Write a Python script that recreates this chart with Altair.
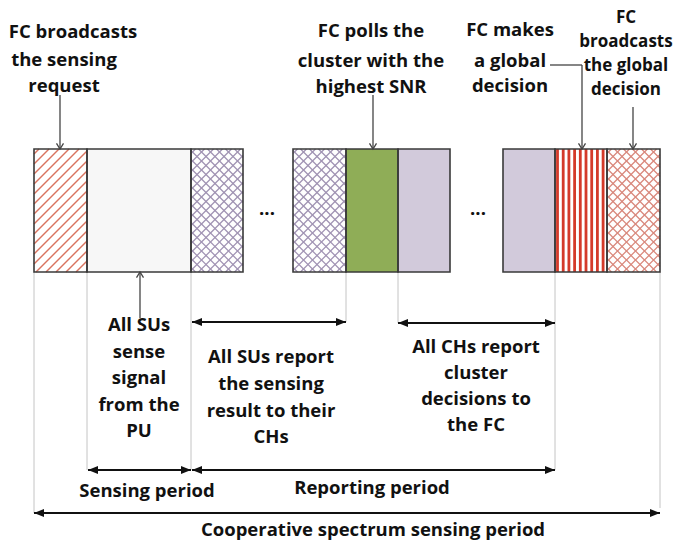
import altair as alt
import pandas as pd

# ---------------- data (diagram coordinates, pixels of the 685x548 figure) ----------------
block_x0 = [34, 87, 191, 293, 346, 398, 503, 555, 607]
block_x1 = [87, 191, 243, 346, 398, 450, 555, 607, 660]
block_pattern = ["diag_red", "dots_gray", "cross_purple", "cross_purple", "green",
                 "dots_purple", "dots_purple", "stripes_red", "cross_red"]
block_top = 149
block_bottom = 272

guide_x = [34, 87, 191, 346, 398, 555, 660]
guide_end = [513, 470, 470, 322, 323, 470, 508]

darrow_x0 = [88, 192, 34, 192, 398]
darrow_x1 = [191, 555, 660, 346, 555]
darrow_y = [470, 470, 513, 322, 323]

callout_x0 = [60, 373, 550, 582, 633, 140]
callout_y0 = [95, 95, 65, 65, 107, 318]
callout_x1 = [60, 373, 582, 582, 633, 140]
callout_y1 = [149, 149, 65, 149, 149, 272]
head_down_x = [60, 373, 582, 633]
head_up_x = [140]

labels = ["FC broadcasts", "the sensing", "request",
          "FC polls the", "cluster with the", "highest SNR",
          "FC makes", "a global", "decision",
          "FC", "broadcasts", "the global", "decision",
          "All SUs", "sense", "signal", "from the", "PU",
          "All SUs report", "the sensing", "result to their", "CHs",
          "All CHs report", "cluster", "decisions to", "the FC",
          "Sensing period", "Reporting period", "Cooperative spectrum sensing period",
          "...", "..."]
label_x = [73, 64, 64,
           371, 371, 371,
           510, 510, 510,
           626, 626, 626, 626,
           139, 139, 139, 139, 139,
           271, 271, 271, 271,
           476, 476, 476, 476,
           147, 372, 373,
           267, 478]
label_y = [32, 60, 86,
           31, 61, 87,
           30, 61, 86,
           18, 42, 66, 90,
           325, 352, 378, 405, 431,
           357, 384, 411, 437,
           347, 373, 399, 425,
           491, 488, 530,
           209, 209]

# ---------------- styles ----------------
FILL = {"diag_red": "#ffffff", "dots_gray": "#f7f7f7", "cross_purple": "#ffffff",
        "green": "#8fad57", "dots_purple": "#d2cadb", "stripes_red": "#ffffff",
        "cross_red": "#ffffff"}

blocks = pd.DataFrame({"x0": block_x0, "x1": block_x1, "pattern": block_pattern})
blocks["y0"] = block_top
blocks["y1"] = block_bottom
blocks["fill"] = blocks["pattern"].map(FILL)


def hatch(x0, x1, y0, y1, d, kind):
    segs = []
    if kind == "/":
        c = x0 + y0 + d / 2
        while c < x1 + y1:
            xa, xb = max(x0, c - y1), min(x1, c - y0)
            if xb > xa:
                segs.append((xa, c - xa, xb, c - xb))
            c += d
    else:
        c = x0 - y1 + d / 2
        while c < x1 - y0:
            xa, xb = max(x0, c + y0), min(x1, c + y1)
            if xb > xa:
                segs.append((xa, xa - c, xb, xb - c))
            c += d
    return segs


rows = []
for _, b in blocks.iterrows():
    x0, x1, y0, y1 = b.x0, b.x1, b.y0, b.y1
    p = b.pattern
    if p == "diag_red":
        for s in hatch(x0, x1, y0, y1, 10, "/"):
            rows.append(s + ("#d9735f", 1.4))
    elif p in ("cross_purple", "cross_red"):
        col = "#a092b3" if p == "cross_purple" else "#d9877b"
        for k in ("/", "\\"):
            for s in hatch(x0, x1, y0, y1, 9, k):
                rows.append(s + (col, 1.2))
    elif p == "stripes_red":
        x = x0 + 2.5
        while x < x1 - 1:
            rows.append((x, y0, x, y1, "#d43a2a", 2.8))
            x += 5.7
hatch_df = pd.DataFrame(rows, columns=["x", "y", "x2", "y2", "color", "w"])

guides = pd.DataFrame({"x": guide_x, "y": block_bottom, "y2": guide_end})
darrows = pd.DataFrame({"x0": darrow_x0, "x1": darrow_x1, "y": darrow_y})
callouts = pd.DataFrame({"x": callout_x0, "y": callout_y0, "x2": callout_x1, "y2": callout_y1})
heads_down = pd.DataFrame({"x": head_down_x, "y": block_top})
heads_up = pd.DataFrame({"x": head_up_x, "y": block_bottom})
texts = pd.DataFrame({"label": labels, "x": label_x, "y": label_y})
# the narrow right-hand column of text is set slightly smaller so it fits the page edge
texts["fs"] = [17.0 if 9 <= i <= 12 else 18.5 for i in range(len(texts))]

# ---------------- scales: data units == figure pixels ----------------
xs = alt.Scale(domain=[8, 677], nice=False, zero=False)
ys = alt.Scale(domain=[8, 540], nice=False, zero=False, reverse=True)


def X(f):
    return alt.X(f, type="quantitative", scale=xs, axis=None)


def Y(f):
    return alt.Y(f, type="quantitative", scale=ys, axis=None)


guide_layer = alt.Chart(guides).mark_rule(color="#c4c4c4", strokeWidth=1).encode(
    x=X("x"), y=Y("y"), y2="y2")

fill_layer = alt.Chart(blocks).mark_rect(strokeWidth=0).encode(
    x=X("x0"), x2="x1", y=Y("y0"), y2="y1", fill=alt.Fill("fill:N", scale=None))

hatch_layer = alt.Chart(hatch_df).mark_rule().encode(
    x=X("x"), y=Y("y"), x2="x2", y2="y2",
    stroke=alt.Stroke("color:N", scale=None),
    strokeWidth=alt.StrokeWidth("w:Q", scale=None))

outline_layer = alt.Chart(blocks).mark_rect(filled=False, stroke="#3a3a3a", strokeWidth=1.6).encode(
    x=X("x0"), x2="x1", y=Y("y0"), y2="y1")

darrow_line = alt.Chart(darrows).mark_rule(color="#111111", strokeWidth=2).encode(
    x=X("x0"), x2="x1", y=Y("y"))
darrow_left = alt.Chart(darrows).mark_point(
    shape="M0,0L2,-0.8L2,0.8Z", filled=True, fill="#111111", strokeWidth=0, size=100, opacity=1
).encode(x=X("x0"), y=Y("y"))
darrow_right = alt.Chart(darrows).mark_point(
    shape="M0,0L-2,-0.8L-2,0.8Z", filled=True, fill="#111111", strokeWidth=0, size=100, opacity=1
).encode(x=X("x1"), y=Y("y"))

callout_layer = alt.Chart(callouts).mark_rule(color="#444444", strokeWidth=1.3).encode(
    x=X("x"), y=Y("y"), x2="x2", y2="y2")
head_down_layer = alt.Chart(heads_down).mark_point(
    shape="M-1,-1.6L0,0L1,-1.6", filled=False, stroke="#444444", strokeWidth=1.3, size=49, opacity=1
).encode(x=X("x"), y=Y("y"))
head_up_layer = alt.Chart(heads_up).mark_point(
    shape="M-1,1.6L0,0L1,1.6", filled=False, stroke="#444444", strokeWidth=1.3, size=49, opacity=1
).encode(x=X("x"), y=Y("y"))

text_layer = alt.Chart(texts).mark_text(
    font="Open Sans", fontWeight="bold", color="#111111", align="center", baseline="middle"
).encode(x=X("x"), y=Y("y"), text="label:N", size=alt.Size("fs:Q", scale=None))

chart = alt.layer(
    guide_layer, fill_layer, hatch_layer, outline_layer,
    darrow_line, darrow_left, darrow_right,
    callout_layer, head_down_layer, head_up_layer, text_layer
).properties(
    width=669, height=532, padding=0, autosize="none", background="white"
).configure_view(stroke=None)

chart.save("out.html", embed_options={"renderer": "svg", "actions": False})
